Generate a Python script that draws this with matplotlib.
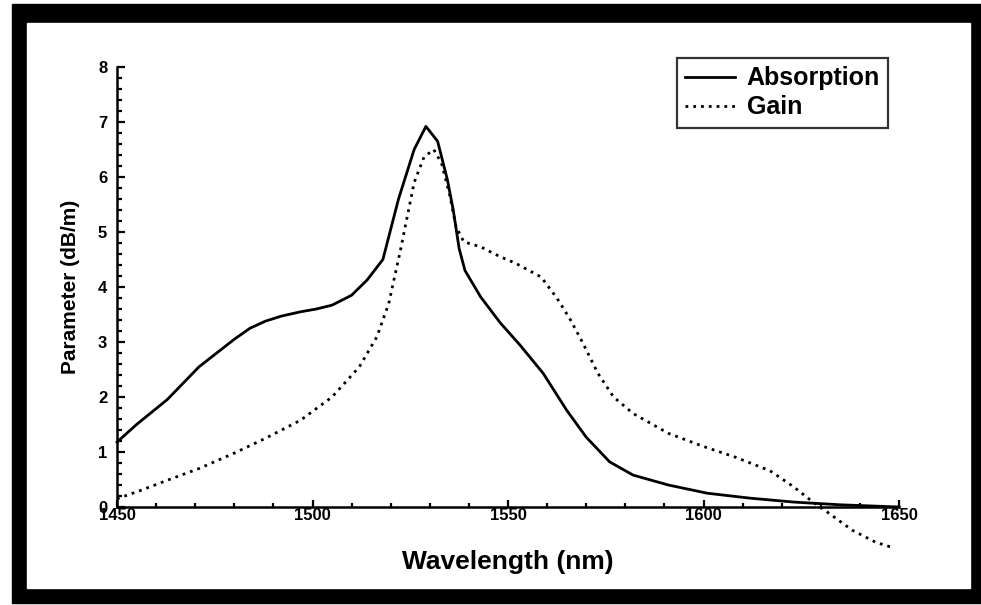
import matplotlib.pyplot as plt
from matplotlib.patches import Rectangle

# Absorption and gain spectra (dB/m) against wavelength (nm)
wl_abs = [1450, 1455, 1462.8, 1471, 1480, 1484, 1488, 1492, 1497, 1501,
          1505, 1510, 1514, 1518, 1522, 1526, 1529, 1532, 1534.5, 1536,
          1537.5, 1539, 1543, 1548, 1553, 1559, 1565, 1570, 1576, 1582,
          1591, 1601, 1612, 1623, 1635, 1650]
absorption = [1.18, 1.5, 1.95, 2.55, 3.05, 3.25, 3.38, 3.47, 3.55, 3.6,
              3.67, 3.85, 4.13, 4.5, 5.6, 6.5, 6.92, 6.65, 5.95, 5.4,
              4.7, 4.3, 3.82, 3.35, 2.95, 2.43, 1.76, 1.27, 0.82, 0.58,
              0.4, 0.25, 0.16, 0.09, 0.04, 0.0]

wl_gain = [1450, 1456, 1463, 1471, 1480, 1488, 1497, 1505, 1512, 1516.5,
           1519.5, 1522.5, 1526, 1528.5, 1531, 1533, 1535, 1536.7, 1538.7,
           1543, 1548, 1552, 1558.5, 1562.5, 1566, 1569, 1573, 1577, 1582,
           1591, 1600, 1608, 1617, 1623, 1628, 1632, 1638, 1644, 1648]
gain = [0.15, 0.3, 0.49, 0.7, 0.98, 1.25, 1.58, 2.0, 2.55, 3.1,
        3.7, 4.67, 5.9, 6.36, 6.5, 6.25, 5.7, 5.1, 4.82,
        4.73, 4.55, 4.43, 4.18, 3.8, 3.4, 3.0, 2.43, 2.0, 1.7,
        1.34, 1.1, 0.91, 0.66, 0.37, 0.09, -0.11, -0.42, -0.64, -0.73]

x_ticks = [1450, 1500, 1550, 1600, 1650]
y_ticks = [0, 1, 2, 3, 4, 5, 6, 7, 8]

W, H = 981, 605
plt.rcParams['font.family'] = ['Liberation Sans', 'DejaVu Sans']
plt.rcParams['font.weight'] = 'bold'

fig = plt.figure(figsize=(W / 100, H / 100), dpi=100)

# thick black frame around the plot
fig.patches.append(Rectangle((12 / W, 2 / H), (W - 12) / W, 599 / H,
                             transform=fig.transFigure, color='black', zorder=-2))
fig.patches.append(Rectangle((27 / W, 17 / H), 943 / W, 565 / H,
                             transform=fig.transFigure, color='white', zorder=-1))

ax = fig.add_axes([117 / W, (H - 507) / H, 782 / W, 440 / H])
ax.patch.set_alpha(0)

ax.plot(wl_abs, absorption, color='black', lw=2, label='Absorption',
        clip_on=False)
ax.plot(wl_gain, gain, color='black', lw=2, linestyle=(0, (1, 1.8)),
        label='Gain', clip_on=False)

ax.set_xlim(1450, 1650)
ax.set_ylim(0, 8)
ax.set_xticks(x_ticks)
ax.set_yticks(y_ticks)
ax.set_xticks(range(1450, 1651, 10), minor=True)
ax.set_yticks([i * 0.2 for i in range(41)], minor=True)

for s in ['top', 'right']:
    ax.spines[s].set_visible(False)
for s in ['left', 'bottom']:
    ax.spines[s].set_linewidth(1.8)

ax.tick_params(which='both', direction='in', width=1.6, labelsize=12)
ax.tick_params(axis='y', which='major', length=6, pad=7)
ax.tick_params(axis='y', which='minor', length=3.5)
ax.tick_params(axis='x', which='major', length=5, pad=1)
ax.tick_params(axis='x', which='minor', length=3)

ax.set_xlabel('Wavelength (nm)', fontsize=19, fontweight='bold', labelpad=19)
ax.set_ylabel('Parameter (dB/m)', fontsize=15, fontweight='bold', labelpad=13)

leg = ax.legend(loc='upper right', bbox_to_anchor=(0.986, 1.02),
                fontsize=18, frameon=True, fancybox=False, handlelength=2.0,
                borderpad=0.33, labelspacing=0.2, handletextpad=0.45,
                borderaxespad=0)
leg.get_frame().set_edgecolor('black')
leg.get_frame().set_linewidth(1.6)
for t in leg.get_texts():
    t.set_fontweight('bold')

fig.savefig('out.png', dpi=100)
